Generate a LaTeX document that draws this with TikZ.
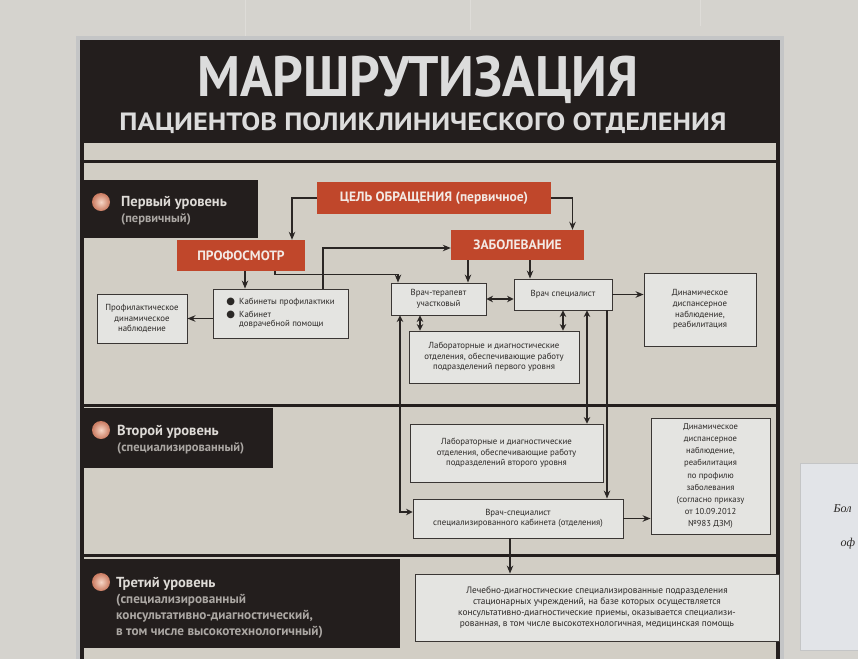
\documentclass[tikz,border=0pt]{standalone}
\usepackage{fontspec}
\setmainfont{PT Sans}
\newfontfamily\dejavu{DejaVu Sans}
\newfontfamily\paperfont{Liberation Serif}
\usetikzlibrary{arrows.meta,calc,shadings}
\definecolor{wall}{HTML}{D5D3CE}
\definecolor{seam}{HTML}{DEDCD8}
\definecolor{silver}{HTML}{C4C5C6}
\definecolor{posterblack}{HTML}{231E1D}
\definecolor{panel}{HTML}{D2CEC5}
\definecolor{boxfill}{HTML}{E4E4E1}
\definecolor{boxline}{HTML}{3A3634}
\definecolor{orangebox}{HTML}{C0472B}
\definecolor{otext}{HTML}{F3E9E4}
\definecolor{textdark}{HTML}{2B2826}
\definecolor{clvltext}{HTML}{DEDBD7}
\definecolor{clvlsub}{HTML}{ABA7A3}
\definecolor{paper}{HTML}{E2E4E8}
\definecolor{ballin}{HTML}{F6D6C6}
\definecolor{ballout}{HTML}{C97A60}
\definecolor{arrowc}{HTML}{2A2624}
\definecolor{titlec}{HTML}{DCDCDC}
\begin{document}
\begin{tikzpicture}[x=1pt,y=-1pt,
 box/.style={draw=boxline, line width=0.9pt, fill=boxfill, text=textdark, align=center, font=\fontsize{8.8}{10.6}\selectfont, inner sep=1pt},
 obox/.style={fill=orangebox, text=otext, font=\bfseries\fontsize{13.5}{15}\selectfont, inner sep=0pt},
 lvlbox/.style={fill=posterblack, inner sep=0pt, anchor=north west},
 lvltitle/.style={text=clvltext, font=\bfseries\fontsize{14.5}{16}\selectfont, inner sep=0pt, anchor=base west},
 lvlsub/.style={text=clvlsub, font=\bfseries\fontsize{12.5}{14}\selectfont, inner sep=0pt, anchor=base west},
 ball/.style={inner color=ballin, outer color=ballout},
 conn/.style={line width=1.2pt, draw=arrowc, -{Stealth[length=8pt,width=6.5pt]}},
 dconn/.style={line width=1.2pt, draw=arrowc, {Stealth[length=6.5pt,width=6.5pt]}-{Stealth[length=6.5pt,width=6.5pt]}},
 sepline/.style={line width=3pt, draw=posterblack},
 seamline/.style={line width=0.6pt, draw=seam},
]
\useasboundingbox (0,0) rectangle (858,659);
\fill[wall] (0,0) rectangle (858,659);
\draw[seamline] (245,0) -- (245,42);
\draw[seamline] (470,0) -- (470,30);
\draw[seamline] (700,0) -- (700,26);
% paper on the right
\begin{scope}
\clip (800,463) rectangle (858,650);
\fill[paper] (800,463) rectangle (858,650);
\draw[line width=0.6pt, draw=silver] (800,463) rectangle (870,650);
\node[anchor=base west, font=\paperfont\itshape\fontsize{12}{14}\selectfont, text=textdark] (pa) at (830,512) {Бол};
\node[anchor=base west, font=\paperfont\itshape\fontsize{12}{14}\selectfont, text=textdark] (pb) at (837,546) {оф};
\end{scope}
% poster
\fill[silver] (76,36) rectangle (784,659);
\fill[posterblack] (80,40) rectangle (780,659);
\fill[panel] (84,143) rectangle (776,659);
\draw[sepline] (84,161) -- (776,161);
\draw[sepline] (84,405) -- (776,405);
\draw[sepline] (84,555) -- (776,555);
% title
\node[anchor=base, text=titlec, inner sep=0pt] (title) at (418,96)
  {\resizebox{441pt}{\height}{\fontsize{57}{57}\selectfont\bfseries МАРШРУТИЗАЦИЯ}};
\node[anchor=base, text=titlec, inner sep=0pt] (subtitle) at (423,130)
  {\resizebox{607pt}{\height}{\fontsize{25}{25}\selectfont\bfseries ПАЦИЕНТОВ ПОЛИКЛИНИЧЕСКОГО ОТДЕЛЕНИЯ}};
% level labels
\node[lvlbox, minimum width=174pt, minimum height=58pt] (lv1) at (84,180) {};
\shade[ball] (101,202) circle (9pt);
\node[lvltitle] (lv1t) at (121,206) {Первый уровень};
\node[lvlsub] (lv1s) at (121,222) {(первичный)};
\node[lvlbox, minimum width=189pt, minimum height=60pt] (lv2) at (84,408) {};
\shade[ball] (101,430) circle (9pt);
\node[lvltitle] (lv2t) at (117,435) {Второй уровень};
\node[lvlsub] (lv2s) at (117,451) {(специализированный)};
\node[lvlbox, minimum width=316pt, minimum height=89pt] (lv3) at (84,559) {};
\shade[ball] (101,582) circle (9pt);
\node[lvltitle] (lv3t) at (116,587) {Третий уровень};
\node[lvlsub, font=\bfseries\fontsize{13.2}{15}\selectfont] (lv3a) at (116,603) {(специализированный};
\node[lvlsub, font=\bfseries\fontsize{13.2}{15}\selectfont] (lv3b) at (116,619) {консультативно-диагностический,};
\node[lvlsub, font=\bfseries\fontsize{13.2}{15}\selectfont] (lv3c) at (116,635) {в том числе высокотехнологичный)};
% orange boxes
\node[obox, minimum width=234pt, minimum height=32pt] (cel) at (434,198) {ЦЕЛЬ ОБРАЩЕНИЯ (первичное)};
\node[obox, minimum width=128pt, minimum height=31pt] (prof) at (241,255.5) {ПРОФОСМОТР};
\node[obox, minimum width=133pt, minimum height=30pt] (zab) at (517.5,245) {ЗАБОЛЕВАНИЕ};
% light boxes
\node[box, minimum width=90pt, minimum height=49pt] (pdn) at (142,318.5) {Профилактическое\\динамическое\\наблюдение};
\node[box, minimum width=135pt, minimum height=49pt, align=left] (kab) at (280.5,313.5)
  {\begin{tabular}{@{}l@{\hspace{4pt}}l@{}}
   {\dejavu\fontsize{10}{10}\selectfont ●} & Кабинеты профилактики\\[2pt]
   {\dejavu\fontsize{10}{10}\selectfont ●} & Кабинет\\[-1.5pt]
   & доврачебной помощи
   \end{tabular}};
\node[box, minimum width=95pt, minimum height=32pt] (ter) at (438.5,299) {Врач-терапевт\\участковый};
\node[box, minimum width=98pt, minimum height=31pt] (spec) at (563,294.5) {Врач специалист};
\node[box, minimum width=112pt, minimum height=73pt] (dyn1) at (700,309.5) {Динамическое\\диспансерное\\наблюдение,\\реабилитация};
\node[box, minimum width=170pt, minimum height=52pt] (lab1) at (494,357) {Лабораторные и диагностические\\отделения, обеспечивающие работу\\подразделений первого уровня};
\node[box, minimum width=193pt, minimum height=58pt] (lab2) at (506.5,453) {Лабораторные и диагностические\\отделения, обеспечивающие работу\\подразделений второго уровня};
\node[box, minimum width=119pt, minimum height=116pt, font=\fontsize{8.6}{12.1}\selectfont] (dyn2) at (710.5,476) {Динамическое\\диспансерное\\наблюдение,\\реабилитация\\по профилю\\заболевания\\(согласно приказу\\от 10.09.2012\\№983 ДЗМ)};
\node[box, minimum width=210pt, minimum height=39pt] (sk) at (518,518.5) {Врач-специалист\\специализированного кабинета (отделения)};
\node[box, minimum width=364pt, minimum height=67pt, font=\fontsize{9.3}{11.2}\selectfont] (lthree) at (597,607.5) {Лечебно-диагностические специализированные подразделения\\стационарных учреждений, на базе которых осуществляется\\консультативно-диагностические приемы, оказывается специализи-\\рованная, в том числе высокотехнологичная, медицинская помощь};
% connectors
\draw[conn] (cel.west) -| ([xshift=51pt]prof.north);
\draw[conn] (cel.east) -| ([xshift=55pt]zab.north);
\draw[conn] ([xshift=4pt]prof.south) -- ([xshift=-35.5pt]kab.north);
\draw[conn] (kab.west |- pdn.east) -- (pdn.east);
\draw[conn] ([xshift=42.5pt]kab.north) |- ([yshift=-3pt]zab.west);
\draw[conn] ([xshift=34pt]prof.south) -- ++(0,3) -| ([xshift=-40.5pt]ter.north);
\draw[conn] ([xshift=-49.5pt]zab.south) -- ([xshift=29.5pt]ter.north);
\draw[conn] ([xshift=12.5pt]zab.south) -- ([xshift=-33pt]spec.north);
\draw[dconn] (ter.east) -- (ter.east -| spec.west);
\draw[conn] (spec.east) -- (spec.east -| dyn1.west);
\draw[dconn] ([xshift=-18.5pt]ter.south) -- ([xshift=-74pt]lab1.north);
\draw[dconn] (spec.south) -- ([xshift=69pt]lab1.north);
\draw[dconn] ([xshift=-38.5pt]ter.south) |- ([yshift=6.5pt]sk.west);
\draw[dconn] ([xshift=24pt]spec.south) -- ([xshift=80.5pt]lab2.north);
\draw[conn] ([xshift=44pt]spec.south) -- ([xshift=89pt]sk.north);
\draw[conn] (sk.east) -- (sk.east -| dyn2.west);
\draw[conn] ([xshift=-8pt]sk.south) -- ([xshift=-87pt]lthree.north);
\end{tikzpicture}
\end{document}
